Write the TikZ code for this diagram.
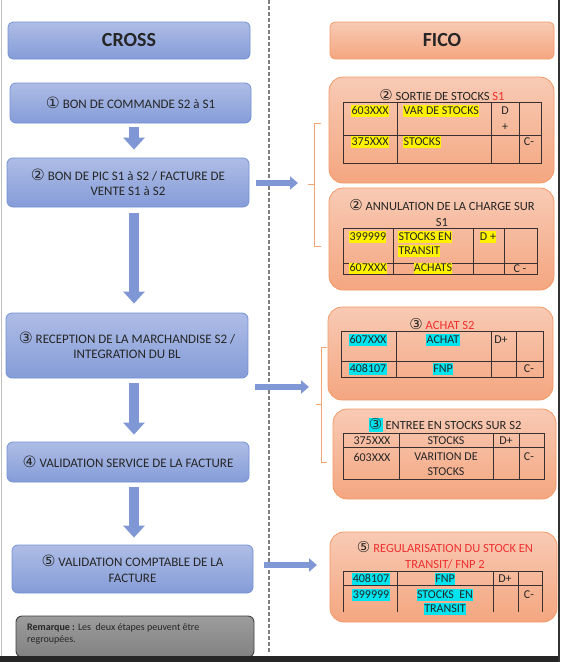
\documentclass[tikz,border=0pt]{standalone}
\usepackage{fontspec}
\setmainfont{Carlito}
\newfontfamily\symfont{DejaVu Sans}
\usetikzlibrary{arrows.meta}
\definecolor{txt}{HTML}{262626}
\definecolor{crosstop}{HTML}{AEBDE6}
\definecolor{crossbot}{HTML}{859CD8}
\definecolor{crossline}{HTML}{7391D2}
\definecolor{arrowblue}{HTML}{7F98D5}
\definecolor{ficotop}{HTML}{F8CAB4}
\definecolor{ficobot}{HTML}{F4A680}
\definecolor{ficoline}{HTML}{F29A68}
\definecolor{bracecol}{HTML}{F4A373}
\definecolor{gridcol}{HTML}{3A3030}
\definecolor{remtop}{HTML}{9C9C9C}
\definecolor{rembot}{HTML}{828282}
\definecolor{hlcyan}{HTML}{00E4F0}
\definecolor{redtxt}{HTML}{F03030}
\setlength{\fboxsep}{0.4pt}
\newcommand{\cn}[1]{{\symfont\scalebox{1.2}{#1}}}
\newcommand{\hlyel}[1]{\colorbox{yellow}{\rule[-2.5pt]{0pt}{11pt}#1}}
\newcommand{\hlcy}[1]{\colorbox{hlcyan}{\rule[-2.5pt]{0pt}{11pt}#1}}
\begin{document}
\begin{tikzpicture}[x=1pt,y=-1pt]
\tikzstyle{crossbox}=[draw=crossline,line width=0.8pt,rounded corners=6pt,top color=crosstop,bottom color=crossbot,text=txt,align=center,font=\fontsize{13}{15.5}\selectfont]
\tikzstyle{ficobox}=[draw=ficoline,line width=0.8pt,rounded corners=14pt,top color=ficotop,bottom color=ficobot]
\tikzstyle{title}=[inner sep=0pt,text=txt,align=center,font=\fontsize{12.5}{16}\selectfont]
\tikzstyle{cell}=[inner sep=0pt,text=txt,font=\fontsize{12}{14}\selectfont]
\tikzstyle{grid}=[draw=gridcol,line width=0.7pt]
\tikzstyle{downarrow}=[draw=arrowblue,line width=10pt,-{Triangle[width=21pt,length=12pt]}]
\tikzstyle{rightarrow}=[draw=arrowblue,line width=6pt,-{Triangle[width=13pt,length=8pt]}]
\tikzstyle{brace}=[draw=bracecol,line width=0.8pt]
\useasboundingbox (0,0) rectangle (562,662);

% separator
\draw[gray,line width=1.2pt,dash pattern=on 4pt off 2pt] (269,0) -- (269,652);

% headers
\node[crossbox,minimum width=242pt,minimum height=37pt,rounded corners=5pt,font=\bfseries\fontsize{20}{24}\selectfont] (cross) at (129,40.5) {CROSS};
\node[ficobox,minimum width=224pt,minimum height=37pt,rounded corners=5pt,text=txt,font=\bfseries\fontsize{20}{24}\selectfont] (fico) at (442,40.5) {FICO};

% CROSS steps
\node[crossbox,minimum width=241pt,minimum height=40pt] (B_1) at (130.5,103) {\cn{①} BON DE COMMANDE S2 à S1};
\node[crossbox,minimum width=242pt,minimum height=49pt] (B_2) at (128,182.5) {\cn{②} BON DE PIC S1 à S2 / FACTURE DE\\VENTE S1 à S2};
\node[crossbox,minimum width=242pt,minimum height=65pt] (B_3) at (127,345.5) {\cn{③} RECEPTION DE LA MARCHANDISE S2 /\\INTEGRATION DU BL};
\node[crossbox,minimum width=242pt,minimum height=40pt] (B_4) at (128,462) {\cn{④} VALIDATION SERVICE DE LA FACTURE};
\node[crossbox,minimum width=241pt,minimum height=48pt] (B_5) at (132.5,569) {\cn{⑤} VALIDATION COMPTABLE DE LA\\FACTURE};
\node[draw=black!75,line width=0.9pt,rounded corners=6pt,top color=remtop,bottom color=rembot,minimum width=238pt,minimum height=41pt] (rem) at (135,636.5) {};
\node[inner sep=0pt,text=txt,align=left,anchor=west,font=\fontsize{10}{12}\selectfont] (rem_t) at (27,634) {\textbf{Remarque :} Les~ deux étapes peuvent être\\regroupées.};

\coordinate (ax) at (134,0);
\draw[downarrow,shorten <=4pt,shorten >=8pt] (B_1.south -| ax) -- (B_2.north -| ax);
\draw[downarrow,shorten <=6pt,shorten >=9pt] (B_2.south -| ax) -- (B_3.north -| ax);
\draw[downarrow,shorten <=5pt,shorten >=7pt] (B_3.south -| ax) -- (B_4.north -| ax);
\draw[downarrow,shorten <=5pt,shorten >=7pt] (B_4.south -| ax) -- (B_5.north -| ax);

% arrows to FICO
\coordinate (br_1) at (308,183);
\coordinate (r2_s) at (255,387);
\coordinate (r2_e) at (309,387);
\coordinate (r3_s) at (264,565);
\coordinate (r3_e) at (317,565);
\draw[rightarrow,shorten <=7pt,shorten >=10pt] (B_2.east |- br_1) -- (br_1);
\draw[rightarrow] (r2_s) -- (r2_e);
\draw[rightarrow] (r3_s) -- (r3_e);

% brackets
\draw[brace] (321,123) -- (314,123) -- (314,246) -- (321,246) (314,184) -- (308,184);
\draw[brace] (327,347) -- (321,347) -- (321,462) -- (327,462) (321,404) -- (316,404);

% FICO entries
\node[ficobox,minimum width=225pt,minimum height=106pt] (F_1) at (441.5,130) {};
\node[ficobox,minimum width=225pt,minimum height=102pt] (F_2) at (441.5,239) {};
\node[ficobox,minimum width=225pt,minimum height=93pt] (F_3) at (440.5,353.5) {};
\node[ficobox,minimum width=223pt,minimum height=90pt] (F_4) at (444.5,454) {};
\node[ficobox,minimum width=227pt,minimum height=90pt] (F_5) at (443.5,577) {};

% sortie de stocks S1
\node[title] (t_1) at (442,95) {\cn{②} SORTIE DE STOCKS \textcolor{redtxt}{S1}};
\draw[grid] (343,102) rectangle (541,163) (343,135) -- (541,135) (397,102) -- (397,163) (491,102) -- (491,163) (519,102) -- (519,163);
\node[cell,anchor=west] (c_11) at (351,111) {\hlyel{603XXX}};
\node[cell,anchor=west] (c_12) at (403,111) {\hlyel{VAR DE STOCKS}};
\node[cell] (c_13) at (505,111) {D};
\node[cell] (c_14) at (505,127) {+};
\node[cell,anchor=west] (c_15) at (351,142) {\hlyel{375XXX}};
\node[cell,anchor=west] (c_16) at (403,142) {\hlyel{STOCKS}};
\node[cell] (c_17) at (529,142) {C-};

% annulation de la charge
\node[title] (t_2) at (442,213) {\cn{②} ANNULATION DE LA CHARGE SUR\\S1};
\draw[grid] (343,228) rectangle (537,274) (343,263) -- (537,263) (393,228) -- (393,274) (473,228) -- (473,274) (504,228) -- (504,274);
\node[cell,anchor=west] (c_21) at (349,237) {\hlyel{399999}};
\node[cell,anchor=west] (c_22) at (398,237) {\hlyel{STOCKS EN}};
\node[cell,anchor=west] (c_23) at (398,251) {\hlyel{TRANSIT}};
\node[cell] (c_24) at (488,237) {\hlyel{D +}};
\node[cell,anchor=west] (c_25) at (349,268.5) {\hlyel{607XXX}};
\node[cell] (c_26) at (433,268.5) {\hlyel{ACHATS}};
\node[cell] (c_27) at (520,268.5) {C -};

% achat S2
\node[title] (t_3) at (442,324) {\cn{③} \textcolor{redtxt}{ACHAT S2}};
\draw[grid] (341,331) rectangle (543,377) (341,361) -- (543,361) (396,331) -- (396,377) (491,331) -- (491,377) (516,331) -- (516,377);
\node[cell] (c_31) at (368,340) {\hlcy{607XXX}};
\node[cell] (c_32) at (443,340) {\hlcy{ACHAT}};
\node[cell] (c_33) at (501,340) {D+};
\node[cell] (c_34) at (368,369) {\hlcy{408107}};
\node[cell] (c_35) at (443,369) {\hlcy{FNP}};
\node[cell] (c_36) at (529,369) {C-};

% entree en stocks S2
\node[title] (t_4) at (445,425) {\hlcy{\cn{③}} ENTREE EN STOCKS SUR S2};
\draw[grid] (343,433) rectangle (544,479) (343,447) -- (544,447) (399,433) -- (399,479) (493,433) -- (493,479) (519,433) -- (519,479);
\node[cell] (c_41) at (372,441) {375XXX};
\node[cell] (c_42) at (446,441) {STOCKS};
\node[cell] (c_43) at (506,441) {D+};
\node[cell] (c_44) at (372,457) {603XXX};
\node[cell] (c_45) at (446,457) {VARITION DE};
\node[cell] (c_46) at (446,472) {STOCKS};
\node[cell] (c_47) at (529,457) {C-};

% regularisation du stock en transit
\node[title,text=redtxt] (t_5) at (445,555.5) {\textcolor{txt}{\cn{⑤}} REGULARISATION DU STOCK EN\\TRANSIT/ FNP 2};
\draw[grid] (343,612) -- (343,571) -- (542,571) -- (542,612) (343,585) -- (542,585) (397,571) -- (397,612) (493,571) -- (493,612) (518,571) -- (518,612);
\node[cell] (c_51) at (371,579) {\hlcy{408107}};
\node[cell] (c_52) at (445,579) {\hlcy{FNP}};
\node[cell] (c_53) at (505,579) {D+};
\node[cell] (c_54) at (371,595) {\hlcy{399999}};
\node[cell] (c_55) at (445,595) {\hlcy{STOCKS~ EN}};
\node[cell] (c_56) at (445,609) {\hlcy{TRANSIT}};
\node[cell] (c_57) at (529,595) {C-};

% frame
\draw[black!25,line width=1pt] (1,0) -- (1,656);
\fill[black!85] (0,656) rectangle (559,662);
\draw[black!80,line width=2pt] (559,0) -- (559,662);
\end{tikzpicture}
\end{document}
